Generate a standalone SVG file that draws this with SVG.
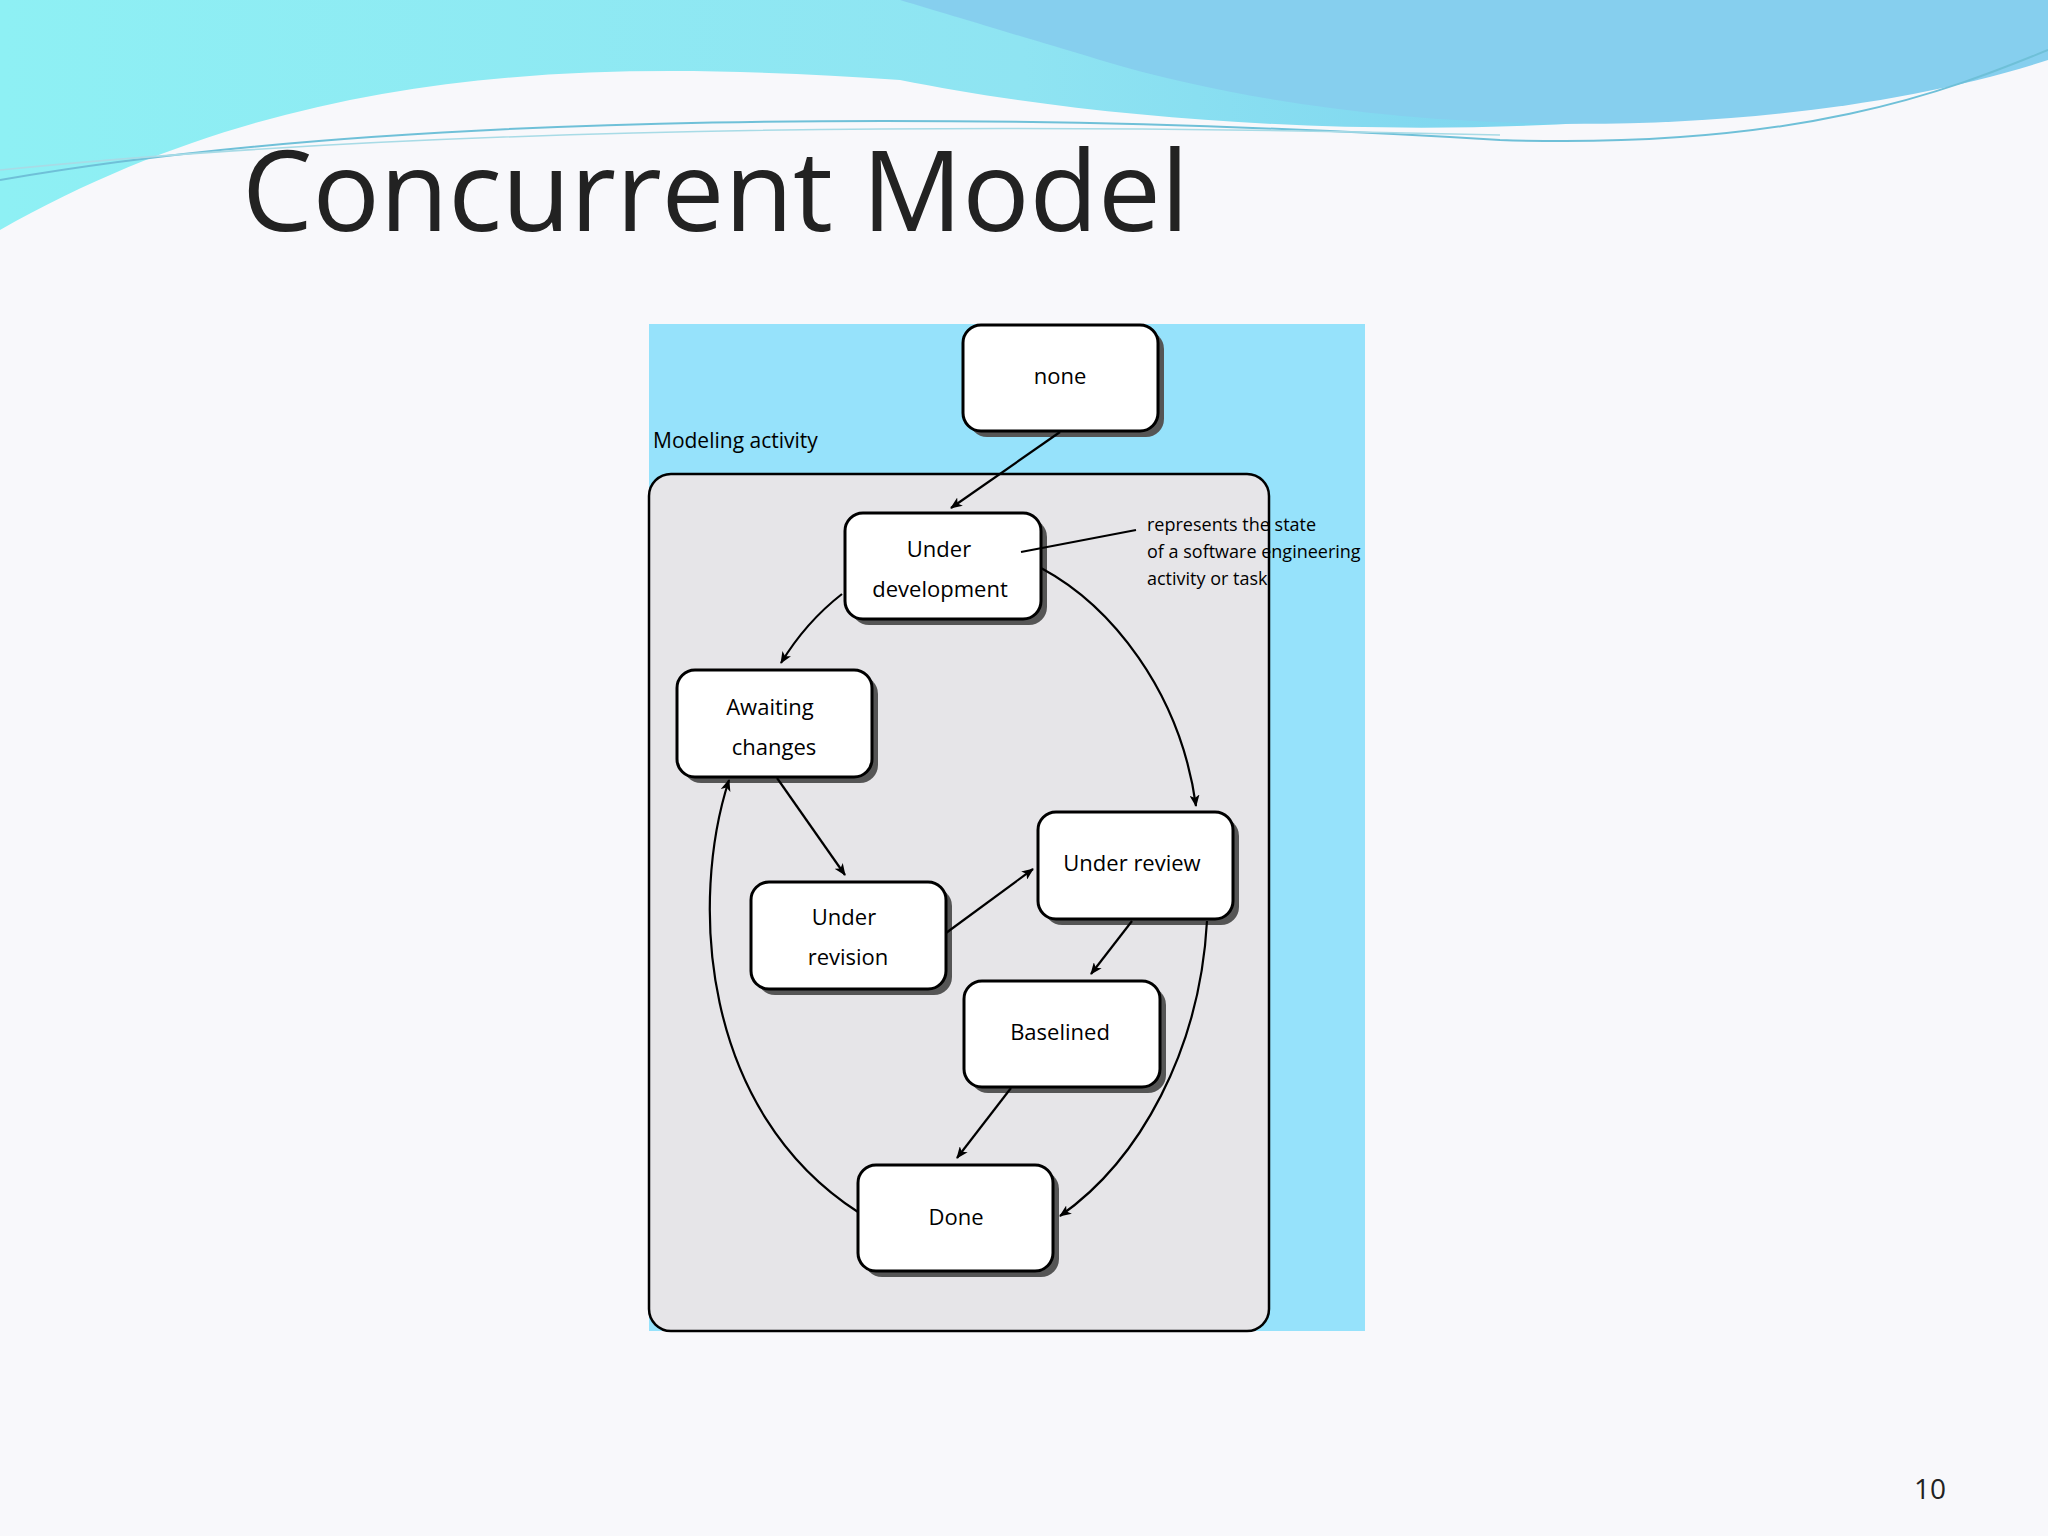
<svg xmlns="http://www.w3.org/2000/svg" width="2048" height="1536" viewBox="0 0 2048 1536">
<defs>
<linearGradient id="g1" x1="0" y1="0" x2="1" y2="0"><stop offset="0" stop-color="#8ef0f4"/><stop offset="0.5" stop-color="#8fe4f2"/><stop offset="1" stop-color="#6cc6ec"/></linearGradient>
<marker id="ah" markerWidth="12" markerHeight="10" refX="11" refY="5" orient="auto" markerUnits="userSpaceOnUse"><path d="M0,0 L12,5 L0,10 L3,5 Z" fill="#000"/></marker>
<style>
.box{fill:#fff;stroke:#000;stroke-width:3}
.sh{fill:#555}
.t{font-family:"Open Sans","DejaVu Sans",sans-serif;font-size:22px;text-anchor:middle;fill:#000}
.c{fill:none;stroke:#000;stroke-width:2.2;marker-end:url(#ah)}
</style>
</defs>
<rect width="2048" height="1536" fill="#f8f8fb"/>
<path d="M0,0 H2048 V40 C1700,160 1200,140 900,80 C600,60 300,60 0,230 Z" fill="url(#g1)"/>
<path d="M900,0 H2048 V60 C1800,140 1400,150 1100,60 C1000,30 950,15 900,0 Z" fill="#86cfee"/>
<path d="M0,180 C400,110 1000,110 1500,140 C1800,150 1950,90 2048,50" fill="none" stroke="#6fc0d8" stroke-width="2"/>
<path d="M0,170 C500,120 1100,125 1500,135" fill="none" stroke="#a8dbe6" stroke-width="1.5"/>
<text x="242" y="231" font-family="Open Sans, DejaVu Sans, sans-serif" font-size="112" fill="#222" textLength="947">Concurrent Model</text>
<text x="1930" y="1499" font-family="Open Sans, DejaVu Sans, sans-serif" font-size="28" fill="#222" text-anchor="middle">10</text>
<rect x="649" y="324" width="716" height="1007" fill="#96e2fb"/>
<rect x="649" y="474" width="620" height="857" rx="22" fill="#e6e5e8" stroke="#000" stroke-width="2.5"/>
<text x="653" y="448" font-family="Open Sans, DejaVu Sans, sans-serif" font-size="21" fill="#000">Modeling activity</text>
<g id="none"><rect class="sh" x="969" y="331" width="195" height="106" rx="18"/><rect class="box" x="963" y="325" width="195" height="106" rx="18"/><text class="t" x="1060" y="384">none</text></g>
<g id="underdev"><rect class="sh" x="851" y="519" width="196" height="106" rx="18"/><rect class="box" x="845" y="513" width="196" height="106" rx="18"/><text class="t" x="939" y="557">Under</text><text class="t" x="940" y="597">development</text></g>
<g id="awaiting"><rect class="sh" x="683" y="676" width="195" height="107" rx="18"/><rect class="box" x="677" y="670" width="195" height="107" rx="18"/><text class="t" x="770" y="715">Awaiting</text><text class="t" x="774" y="755">changes</text></g>
<g id="revision"><rect class="sh" x="757" y="888" width="195" height="107" rx="18"/><rect class="box" x="751" y="882" width="195" height="107" rx="18"/><text class="t" x="844" y="925">Under</text><text class="t" x="848" y="965">revision</text></g>
<g id="review"><rect class="sh" x="1044" y="818" width="195" height="107" rx="18"/><rect class="box" x="1038" y="812" width="195" height="107" rx="18"/><text class="t" x="1132" y="871">Under review</text></g>
<g id="baselined"><rect class="sh" x="970" y="987" width="196" height="106" rx="18"/><rect class="box" x="964" y="981" width="196" height="106" rx="18"/><text class="t" x="1060" y="1040">Baselined</text></g>
<g id="done"><rect class="sh" x="864" y="1171" width="195" height="106" rx="18"/><rect class="box" x="858" y="1165" width="195" height="106" rx="18"/><text class="t" x="956" y="1225">Done</text></g>
<g id="note" font-family="Open Sans, DejaVu Sans, sans-serif" font-size="18" fill="#000"><text x="1147" y="531">represents the state</text><text x="1147" y="558">of a software engineering</text><text x="1147" y="585">activity or task</text></g>
<g id="connectors">
<line x1="1136" y1="530" x2="1021" y2="552" stroke="#000" stroke-width="2.2"/>
<path class="c" d="M1060,432 L951,508"/>
<path class="c" d="M842,594 C815,615 795,640 781,663"/>
<path class="c" d="M1041,568 C1110,605 1180,690 1196,806"/>
<path class="c" d="M777,778 L845,875"/>
<path class="c" d="M946,933 L1033,869"/>
<path class="c" d="M1132,921 L1091,974"/>
<path class="c" d="M1011,1088 L957,1158"/>
<path class="c" d="M1207,921 C1200,1050 1140,1160 1060,1216"/>
<path class="c" d="M858,1212 C700,1110 690,900 729,780"/>
</g>
</svg>
